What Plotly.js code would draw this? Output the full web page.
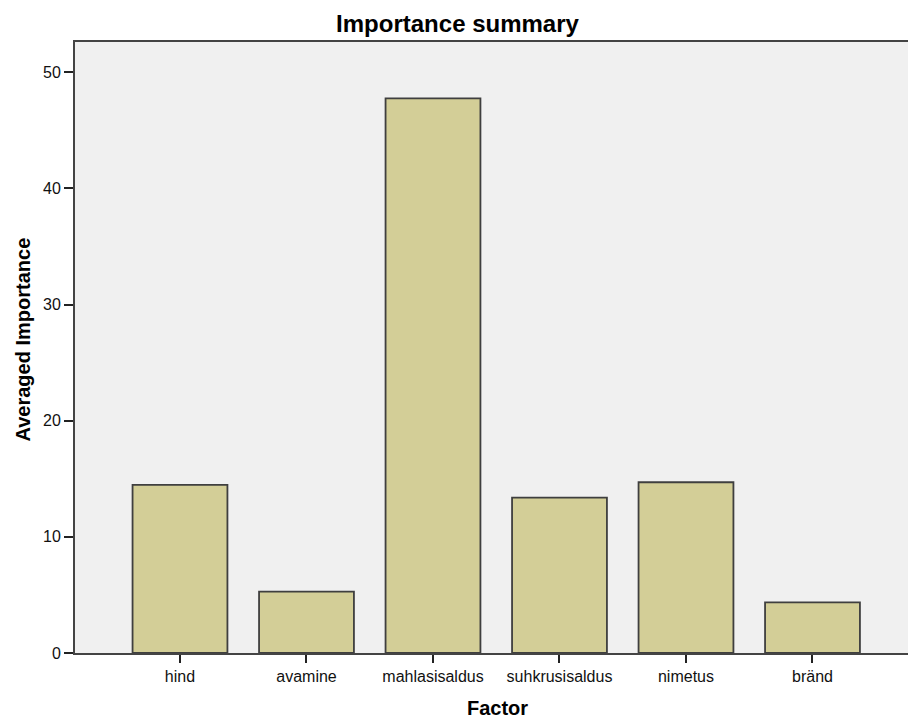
<!DOCTYPE html>
<html>
<head>
<meta charset="utf-8">
<script src="https://cdn.plot.ly/plotly-3.0.1.min.js"></script>
<style>html,body{margin:0;padding:0;background:#fff;}#chart{width:908px;height:720px;}</style>
</head>
<body>
<div id="chart"></div>
<script>
const factors = ["hind", "avamine", "mahlasisaldus", "suhkrusisaldus", "nimetus", "bränd"];
const importance = [14.48, 5.28, 47.74, 13.37, 14.7, 4.36];
const yTicks = [0, 10, 20, 30, 40, 50];
const chartTitle = "Importance summary";
const xTitle = "Factor";
const yTitle = "Averaged Importance";

const trace = {
  type: 'bar',
  x: factors,
  y: importance,
  width: 0.75,
  marker: {color: '#d3ce97', line: {color: '#3f3f3f', width: 1.8}},
  hoverinfo: 'x+y'
};

const layout = {
  width: 908, height: 720,
  margin: {l: 75, r: 0, t: 42, b: 67},
  paper_bgcolor: '#ffffff',
  plot_bgcolor: '#f0f0f0',
  font: {family: 'Liberation Sans, Arial, sans-serif', color: '#111', size: 16},
  title: {text: '<b>' + chartTitle + '</b>', x: 457.5/908, xref: 'container', xanchor: 'center', y: 1 - 24/720, yref: 'container', yanchor: 'middle', font: {size: 24, color: '#000'}},
  showlegend: false,
  xaxis: {
    type: 'category',
    range: [-0.83, 5.755],
    showline: true, linecolor: '#444', linewidth: 2, mirror: true,
    ticks: 'outside', ticklen: 8, tickcolor: '#222', tickwidth: 2,
    showgrid: false, zeroline: false,
    tickfont: {size: 16}
  },
  yaxis: {
    range: [0, 52.6],
    tickvals: yTicks,
    showline: true, linecolor: '#444', linewidth: 2, mirror: false,
    ticks: 'outside', ticklen: 9, tickcolor: '#222', tickwidth: 2,
    ticklabelstandoff: 0,
    showgrid: false, zeroline: false,
    tickfont: {size: 16}
  },
  annotations: [
    {text: '<b>' + xTitle + '</b>', xref: 'paper', yref: 'paper', x: (497 - 75) / 833, y: (653 - 708) / 611,
     xanchor: 'center', yanchor: 'middle', showarrow: false, font: {size: 20, color: '#000'}},
    {text: '<b>' + yTitle + '</b>', xref: 'paper', yref: 'paper', x: (22 - 75) / 833, y: (653 - 339.5) / 611,
     xanchor: 'center', yanchor: 'middle', textangle: -90, showarrow: false, font: {size: 20, color: '#000'}}
  ]
};

Plotly.newPlot('chart', [trace], layout, {displayModeBar: false, staticPlot: true});
</script>
</body>
</html>
